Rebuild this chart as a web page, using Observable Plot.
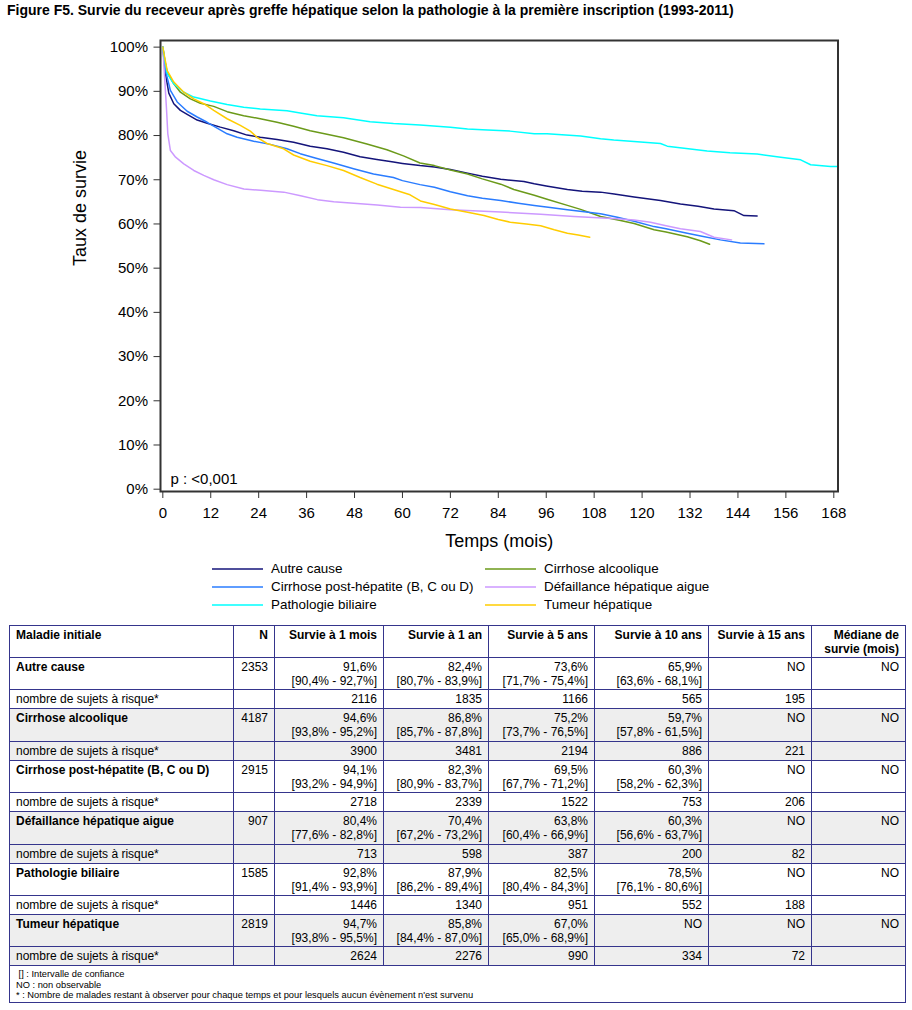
<!DOCTYPE html>
<html>
<head>
<meta charset="utf-8">
<script src="https://cdn.jsdelivr.net/npm/d3@7"></script>
<script src="https://cdn.jsdelivr.net/npm/@observablehq/plot@0.6"></script>
<style>
  html, body { margin: 0; padding: 0; background: #fff; }
  body { width: 912px; height: 1010px; position: relative; font-family: "Liberation Sans", Arial, sans-serif; color: #000; overflow: hidden; }
  #title { position: absolute; left: 7px; top: 2px; font-size: 14px; line-height: 16px; font-weight: bold; white-space: nowrap; }
  #chart { position: absolute; left: 0; top: 22px; }
  #legend { position: absolute; left: 212px; top: 560px; display: grid; grid-template-columns: 273px 300px; font-size: 13.4px; line-height: 18px; }
  #legend .item { display: flex; align-items: center; white-space: nowrap; }
  #legend svg { margin-right: 8px; }
  #tbl { position: absolute; left: 9px; top: 625px; border-collapse: collapse; font-size: 12px; line-height: 14px; table-layout: fixed; width: 896px; }
  #tbl td { border: 1px solid #35358c; padding: 2px 6px 0 6px; vertical-align: top; text-align: right; box-sizing: border-box; white-space: nowrap; }
  #tbl td:first-child { text-align: left; }
  #tbl tr.head td { font-weight: bold; height: 32px; }
  #tbl tr.main td { height: 32.4px; }
  #tbl tr.main td:first-child { font-weight: bold; }
  #tbl tr.risk td { height: 19px; }
  #tbl tr.shade td { background: #eeeeee; }
  #tbl tr.foot td { text-align: left; font-size: 9.3px; line-height: 10.5px; height: 37px; padding: 3px 6px 0 6px; }
</style>
</head>
<body>
<div id="title">Figure F5. Survie du receveur après greffe hépatique selon la pathologie à la première inscription (1993-2011)</div>
<div id="chart"></div>
<div id="legend"></div>
<table id="tbl"></table>
<script>
// ---------- Data ----------
const names = ["Autre cause", "Cirrhose alcoolique", "Cirrhose post-hépatite (B, C ou D)", "Défaillance hépatique aigue", "Pathologie biliaire", "Tumeur hépatique"];
const colors = ["#14147a", "#6b9a1a", "#2a7cff", "#cc99ff", "#00ffff", "#ffcc00"];
const xTicks = [0, 12, 24, 36, 48, 60, 72, 84, 96, 108, 120, 132, 144, 156, 168];
const yTicks = [0, 10, 20, 30, 40, 50, 60, 70, 80, 90, 100];

// [mois, survie %]
const autreCause = [[0,100],[0.3,97],[0.67,94.0],[1.5,89.6],[2.75,87.2],[4.4,85.7],[6.1,84.8],[8.6,83.5],[11.1,82.8],[14.4,81.9],[17.75,81.1],[21.1,80.1],[24.4,79.6],[28.6,79.1],[32.75,78.5],[36.9,77.6],[41.1,77.0],[45.25,76.2],[49.4,75.2],[53.6,74.6],[57.75,74.0],[60,73.7],[64.4,73.2],[68,72.9],[72,72.3],[76.3,71.5],[80,70.8],[84.6,70.1],[90.4,69.6],[93,69.1],[96,68.6],[101.3,67.8],[105,67.4],[109.6,67.2],[113,66.8],[118,66.1],[121.3,65.7],[124.6,65.3],[129.6,64.5],[134,64.0],[138,63.4],[143,63.0],[145.5,61.9],[148.8,61.8]];
const cirrhoseAlcoolique = [[0,100],[0.5,97],[1.1,94.3],[2.75,91.7],[4.4,89.8],[6.9,88.3],[9.4,87.3],[12.75,86.6],[16.1,85.4],[20.25,84.5],[24.4,83.8],[28.6,83.0],[32.75,82.1],[36.9,81.1],[41.1,80.3],[45.25,79.5],[51.1,78.1],[56.1,76.8],[60.25,75.4],[64.4,73.8],[68,73.2],[72,72.2],[76.3,71.3],[80,70.2],[84.6,69.0],[87.9,67.8],[93,66.5],[96.2,65.6],[101.3,64.2],[104.6,63.3],[109.6,61.7],[114.6,60.8],[118,60.1],[123,58.7],[126,58.2],[131.3,57.1],[134.6,56.2],[136.9,55.4]];
const cirrhosePostHep = [[0,100],[0.67,94.7],[1.9,90.2],[3.6,87.6],[6.1,85.5],[8.6,84.2],[11.1,83.0],[13.6,81.7],[16.1,80.4],[18.6,79.6],[22.75,78.7],[26.9,78.0],[31.1,77.0],[34.4,75.9],[38.6,74.8],[42.75,73.8],[47.75,72.5],[52.75,71.3],[57.75,70.5],[60,69.8],[64.4,68.9],[68,68.3],[72,67.3],[76.3,66.4],[80,65.8],[84.6,65.3],[89,64.7],[93,64.2],[97,63.7],[101.3,63.2],[105,62.8],[109.6,62.3],[113.8,61.5],[118,60.6],[123,59.4],[126,58.9],[131.3,57.9],[135,57.2],[139.6,56.4],[144.6,55.7],[150.5,55.5]];
const defaillance = [[0,100],[0.4,93.9],[0.9,86.4],[1.25,80.4],[1.9,76.6],[3.2,75.1],[5.25,73.6],[7.75,72.1],[10.25,71.0],[12.75,70.0],[16.1,68.9],[20.3,67.9],[24.5,67.6],[30.3,67.2],[34.5,66.4],[38.7,65.5],[42.8,65.0],[47.8,64.7],[53.7,64.3],[59.5,63.8],[64.5,63.7],[72,63.2],[84.6,62.7],[94.6,62.2],[102.9,61.7],[113.8,61.2],[118,60.9],[122.1,60.4],[126,59.6],[129.6,58.9],[134.6,58.3],[138,57.0],[142.4,56.4]];
const biliaire = [[0,100],[0.5,97],[1.1,94.0],[2.75,91.7],[5.25,89.8],[7.75,88.7],[11.9,87.8],[16.1,87.0],[20.25,86.4],[24.4,86.0],[31.1,85.6],[34.4,85.1],[38.6,84.5],[45.25,84.0],[51.9,83.1],[57.75,82.7],[64.4,82.4],[72,81.9],[76.3,81.5],[80,81.3],[86.9,81.0],[93,80.4],[96.2,80.4],[104.6,79.9],[109.6,79.3],[112.9,79.0],[118.8,78.6],[124.6,78.2],[126.3,77.6],[130,77.2],[136.3,76.5],[142,76.1],[148.8,75.8],[154.7,75.1],[159.7,74.5],[162.2,73.4],[167.2,73.0],[169,73.0]];
const tumeur = [[0,100],[0.5,97.5],[1.1,94.7],[2.75,92.1],[5.25,89.8],[7.75,88.3],[10.25,87.2],[12.75,85.7],[16.1,83.8],[19.4,82.3],[21.9,81.0],[23.6,79.6],[26.1,78.2],[30.25,77.0],[32.75,75.6],[36.9,74.2],[41.1,73.2],[45.25,72.1],[49.4,70.5],[53.6,69.0],[57.75,67.8],[61.9,66.6],[64.5,65.2],[68,64.4],[72,63.4],[76,62.7],[80.4,61.9],[84,61.0],[87,60.4],[91,60.0],[94.6,59.6],[98,58.7],[101.3,57.9],[104,57.5],[106.9,57.0]];

// Tableau
const headers = ["Maladie initiale", "N", "Survie à 1 mois", "Survie à 1 an", "Survie à 5 ans", "Survie à 10 ans", "Survie à 15 ans", "Médiane de<br>survie (mois)"];
const nValues = [2353, 4187, 2915, 907, 1585, 2819];
const surv1m = ["91,6%", "94,6%", "94,1%", "80,4%", "92,8%", "94,7%"];
const ci1m = ["[90,4% - 92,7%]", "[93,8% - 95,2%]", "[93,2% - 94,9%]", "[77,6% - 82,8%]", "[91,4% - 93,9%]", "[93,8% - 95,5%]"];
const surv1y = ["82,4%", "86,8%", "82,3%", "70,4%", "87,9%", "85,8%"];
const ci1y = ["[80,7% - 83,9%]", "[85,7% - 87,8%]", "[80,9% - 83,7%]", "[67,2% - 73,2%]", "[86,2% - 89,4%]", "[84,4% - 87,0%]"];
const surv5y = ["73,6%", "75,2%", "69,5%", "63,8%", "82,5%", "67,0%"];
const ci5y = ["[71,7% - 75,4%]", "[73,7% - 76,5%]", "[67,7% - 71,2%]", "[60,4% - 66,9%]", "[80,4% - 84,3%]", "[65,0% - 68,9%]"];
const surv10y = ["65,9%", "59,7%", "60,3%", "60,3%", "78,5%", "NO"];
const ci10y = ["[63,6% - 68,1%]", "[57,8% - 61,5%]", "[58,2% - 62,3%]", "[56,6% - 63,7%]", "[76,1% - 80,6%]", ""];
const surv15y = ["NO", "NO", "NO", "NO", "NO", "NO"];
const medianes = ["NO", "NO", "NO", "NO", "NO", "NO"];
const risk1m = [2116, 3900, 2718, 713, 1446, 2624];
const risk1y = [1835, 3481, 2339, 598, 1340, 2276];
const risk5y = [1166, 2194, 1522, 387, 951, 990];
const risk10y = [565, 886, 753, 200, 552, 334];
const risk15y = [195, 221, 206, 82, 188, 72];
const riskLabel = "nombre de sujets à risque*";
const footnotes = ["&nbsp;[] : Intervalle de confiance", "NO : non observable", "* : Nombre de malades restant à observer pour chaque temps et pour lesquels aucun évènement n'est survenu"];

// ---------- Chart ----------
const series = [autreCause, cirrhoseAlcoolique, cirrhosePostHep, defaillance, biliaire, tumeur];
const data = series.flatMap((pts, i) => pts.map(([m, v]) => ({m, v, name: names[i]})));

const chart = Plot.plot({
  width: 912,
  height: 540,
  marginLeft: 160,
  marginRight: 74.5,
  marginTop: 18,
  marginBottom: 71,
  x: {domain: [-0.58, 169.05]},
  y: {domain: [-0.52, 101.5]},
  color: {domain: names, range: colors},
  style: {fontFamily: "'Liberation Sans', Arial, sans-serif", fontSize: "15px", color: "#000", background: "#fff", overflow: "visible"},
  marks: [
    Plot.line(data, {x: "m", y: "v", z: "name", stroke: "name", strokeWidth: 1.5}),
    Plot.frame({stroke: "#333", strokeWidth: 2}),
    Plot.axisX({ticks: xTicks, tickFormat: d => String(d), tickSize: 7, tickPadding: 9, stroke: "#333", label: null, fontSize: 15}),
    Plot.axisY({ticks: yTicks, tickFormat: d => d + "%", tickSize: 6.5, tickPadding: 6, stroke: "#333", label: null, fontSize: 15}),
    Plot.text(["Temps (mois)"], {frameAnchor: "bottom", dy: 50, fontSize: 18, lineAnchor: "middle", fill: "#000"}),
    Plot.text(["Taux de survie"], {frameAnchor: "left", dx: -80, rotate: -90, fontSize: 18, lineAnchor: "middle", fill: "#000"}),
    Plot.text(["p : <0,001"], {frameAnchor: "bottom-left", dx: 10, dy: -8, textAnchor: "start", lineAnchor: "bottom", fontSize: 15, fill: "#000"})
  ]
});
document.getElementById("chart").appendChild(chart);

// ---------- Legend ----------
const legend = document.getElementById("legend");
names.forEach((n, i) => {
  const item = document.createElement("div");
  item.className = "item";
  item.innerHTML = `<svg width="51" height="4"><line x1="0" x2="51" y1="2" y2="2" stroke="${colors[i]}" stroke-width="1.5"/></svg><span>${n}</span>`;
  legend.appendChild(item);
});

// ---------- Table ----------
const tbl = document.getElementById("tbl");
const colW = [224, 41, 109, 105, 106, 114, 103, 94];
let html = "<colgroup>" + colW.map(w => `<col style="width:${w}px">`).join("") + "</colgroup>";
html += `<tr class="head">${headers.map(h => `<td>${h}</td>`).join("")}</tr>`;
names.forEach((n, i) => {
  const sh = i % 2 === 1 ? " shade" : "";
  const cell = (s, c) => c ? `${s}<br>${c}` : s;
  html += `<tr class="main${sh}"><td>${n}</td><td>${nValues[i]}</td><td>${cell(surv1m[i], ci1m[i])}</td><td>${cell(surv1y[i], ci1y[i])}</td><td>${cell(surv5y[i], ci5y[i])}</td><td>${cell(surv10y[i], ci10y[i])}</td><td>${surv15y[i]}</td><td>${medianes[i]}</td></tr>`;
  html += `<tr class="risk${sh}"><td>${riskLabel}</td><td></td><td>${risk1m[i]}</td><td>${risk1y[i]}</td><td>${risk5y[i]}</td><td>${risk10y[i]}</td><td>${risk15y[i]}</td><td></td></tr>`;
});
html += `<tr class="foot"><td colspan="8">${footnotes.join("<br>")}</td></tr>`;
tbl.innerHTML = html;
</script>
</body>
</html>
